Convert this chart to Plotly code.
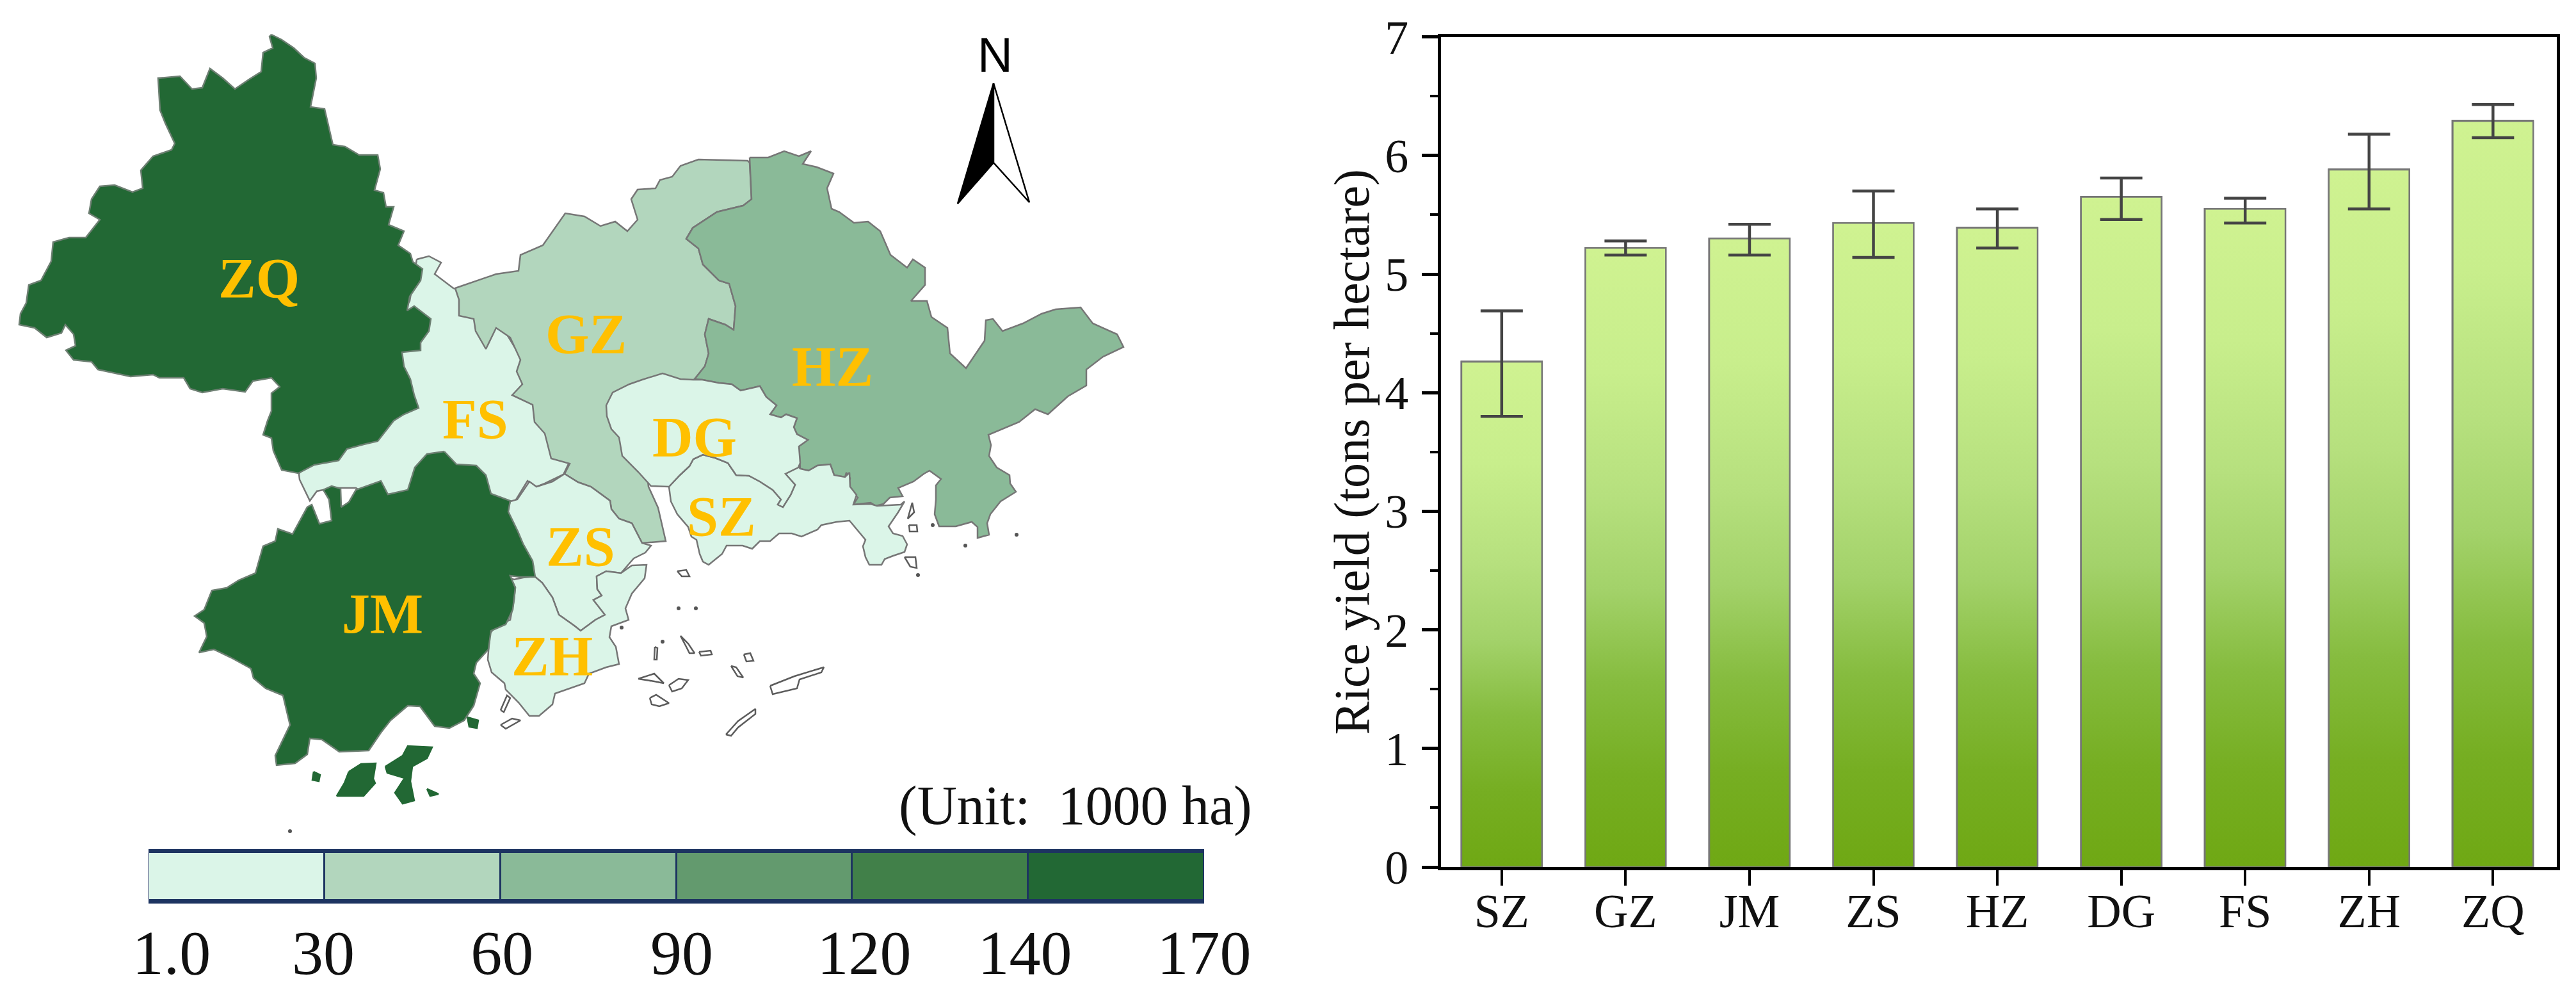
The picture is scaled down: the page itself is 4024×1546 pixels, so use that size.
import plotly.graph_objects as go

# ---- bar chart data ----
cities = ["SZ", "GZ", "JM", "ZS", "HZ", "DG", "FS", "ZH", "ZQ"]
rice_yield = [4.26, 5.22, 5.30, 5.43, 5.39, 5.65, 5.55, 5.88, 6.29]
err_plus = [0.43, 0.06, 0.12, 0.27, 0.16, 0.16, 0.09, 0.30, 0.14]
err_minus = [0.46, 0.06, 0.14, 0.29, 0.17, 0.19, 0.12, 0.33, 0.14]

# ---- legend classes ----
class_names = ["1.0-30", "30-60", "60-90", "90-120", "120-140", "140-170"]
class_colors = ["#dbf5e8", "#b2d6bd", "#8aba98", "#639a6e", "#418049", "#226834"]
class_ticks = ["1.0", "30", "60", "90", "120", "140", "170"]

# ---- map outlines ----
FS = [(651,405),(670,400),(689,410),(679,428),(708,450),(760,470),(900,700),(880,741),(851,755),(836,761),(824,751),
      (805,782),(760,790),(600,790),(556,762),(520,762),(495,767),(484,782),(468,749),(467,740),(640,470)]
GZ = [(711,450),(746,438),(775,428),(810,423),(813,398),(848,383),(883,333),(913,338),(938,353),(961,346),
      (980,361),(996,343),(986,311),(996,296),(1024,294),(1031,281),(1050,276),(1063,259),(1091,249),(1168,251),
      (1171,254),(1174,311),(1161,321),(1120,331),(1082,356),(1072,373),(1091,388),(1098,413),(1123,438),(1139,443),
      (1149,478),(1146,515),(1133,507),(1107,498),(1101,522),(1107,552),(1101,572),(1085,592),(1000,650),
      (1013,760),(1028,793),(1040,845),(1003,848),(987,817),(967,810),(955,795),(953,782),(923,760),(903,753),(882,740),
      (890,724),(861,716),(851,677),(835,659),(832,632),(800,617),(816,600),(807,580),(813,562),(797,527),
      (775,512),(759,545),(743,517),(740,498),(717,493),(717,468)]
HZ = [(1171,246),(1200,246),(1225,236),(1248,244),(1267,236),(1254,256),(1276,261),(1302,271),(1292,294),(1299,326),
      (1311,331),(1334,348),(1356,346),(1375,361),(1391,398),(1417,418),(1426,405),(1445,418),(1445,445),(1423,470),
      (1448,470),(1455,495),(1480,512),(1484,552),(1509,575),(1538,532),(1540,500),(1551,498),(1566,517),(1598,505),
      (1627,490),(1649,483),(1688,480),(1707,505),(1745,522),(1755,542),(1723,557),(1697,577),(1697,602),(1668,619),
      (1637,647),(1617,639),(1592,659),(1544,679),(1548,695),(1545,712),(1557,730),(1577,742),(1578,755),(1587,768),
      (1563,783),(1547,803),(1542,817),(1545,835),(1527,840),(1527,823),(1518,815),(1493,822),(1467,822),(1460,803),
      (1462,780),(1462,758),(1470,748),(1452,735),(1443,740),(1427,752),(1403,762),(1410,775),(1390,777),(1380,787),
      (1368,790),(1360,785),(1333,788),(1340,777),(1323,763),(1328,747),(1322,738),(1320,745),(1303,742),(1297,725),
      (1277,727),(1263,735),(1250,732),(1248,697),(1262,687),(1245,678),(1240,667),(1245,653),(1228,647),(1220,652),
      (1203,647),(1213,633),(1197,620),(1187,603),(1157,610),(1143,600),(1123,598),(1097,593),(1085,592),(1101,572),
      (1107,552),(1101,522),(1107,498),(1133,507),(1146,515),(1149,478),(1139,443),(1123,438),(1098,413),(1091,388),
      (1072,373),(1082,356),(1120,331),(1161,321),(1174,311)]
SZ = [(1045,760),(1062,742),(1077,728),(1083,717),(1098,710),(1117,715),(1137,723),(1150,742),(1170,743),(1187,752),
      (1207,765),(1220,780),(1215,788),(1223,792),(1235,773),(1242,757),(1227,740),(1247,728),(1250,732),(1263,735),
      (1277,727),(1297,725),(1303,742),(1320,745),(1327,738),(1328,760),(1338,773),(1333,788),(1360,787),(1370,790),
      (1407,788),(1413,783),(1403,800),(1388,822),(1395,833),(1410,837),(1417,850),(1413,862),(1395,868),(1382,873),
      (1377,882),(1358,882),(1352,870),(1348,853),(1352,843),(1335,823),(1327,813),(1307,815),(1283,820),(1277,827),
      (1252,838),(1237,833),(1217,833),(1203,845),(1187,845),(1175,857),(1160,852),(1135,852),(1128,865),(1107,882),
      (1098,877),(1093,865),(1088,843),(1080,838),(1075,823),(1058,803),(1048,783)]
DG = [(947,633),(957,613),(983,600),(1003,593),(1035,583),(1063,592),(1083,593),(1097,593),(1123,598),(1143,600),
      (1157,610),(1187,603),(1197,620),(1213,633),(1203,647),(1220,652),(1228,647),(1245,653),(1240,667),(1245,678),
      (1262,687),(1248,697),(1250,723),(1247,730),(1227,740),(1242,757),(1235,773),(1223,792),(1215,788),(1220,780),
      (1207,765),(1187,752),(1170,743),(1150,742),(1137,723),(1117,715),(1098,710),(1083,717),(1077,728),(1062,742),
      (1045,760),(1017,759),(997,737),(972,712),(967,683),(955,670),(948,650)]
ZS = [(882,740),(903,753),(923,760),(953,782),(955,795),(967,810),(987,817),(1003,848),(1017,852),(1008,863),
      (990,872),(970,895),(947,892),(932,900),(933,920),(940,930),(927,937),(945,960),(930,968),(907,985),
      (897,977),(873,960),(863,933),(847,910),(835,900),(833,883),(817,850),(800,820),(793,797),(797,783),
      (808,780),(827,752),(838,760),(863,752)]
ZH = [(835,900),(847,910),(863,933),(873,960),(897,977),(907,985),(930,968),(945,960),(927,937),(940,930),
      (933,920),(932,900),(947,892),(970,895),(987,883),(1010,882),(1007,903),(987,927),(977,950),(982,968),
      (955,978),(952,995),(962,1010),(967,1037),(947,1042),(920,1052),(913,1067),(867,1083),(863,1100),(842,1118),
      (827,1118),(810,1097),(790,1077),(788,1067),(768,1050),(762,1030),(765,990),(775,977),(797,968),(803,937),
      (805,917),(797,902),(803,905),(817,902)]
ZQ = [(424,54),(440,62),(459,75),(475,90),(492,99),(494,122),(491,137),(485,167),(507,170),(512,192),
      (520,226),(539,229),(561,242),(590,242),(594,264),(585,297),(599,301),(603,323),(615,323),(607,351),
      (631,361),(622,383),(641,396),(645,409),(660,420),(657,438),(640,463),(636,485),(647,478),(673,498),
      (670,517),(657,535),(657,547),(628,550),(631,572),(641,592),(647,617),(654,637),(631,647),(615,657),
      (599,677),(590,689),(568,694),(542,701),(529,719),(491,726),(466,739),(440,734),(427,704),(424,684),
      (411,679),(418,657),(424,642),(424,614),(437,604),(424,590),(395,595),(383,612),(348,607),(316,613),
      (297,607),(287,590),(249,590),(239,585),(204,588),(153,577),(143,565),(115,562),(103,547),(118,540),
      (115,522),(102,507),(96,520),(73,527),(54,512),(30,507),(32,490),(41,473),(45,445),(64,438),
      (80,408),(83,378),(108,371),(134,371),(156,343),(139,333),(143,311),(156,291),(179,289),(207,300),
      (223,294),(220,266),(239,244),(268,234),(273,224),(258,192),(250,172),(247,122),(281,119),(300,139),
      (316,137),(328,107),(348,122),(367,139),(389,124),(408,112),(411,82),(426,75),(421,57)]
JM = [(694,705),(713,725),(744,727),(759,742),(767,771),(797,782),(794,799),(809,830),(817,849),(832,876),
      (836,901),(813,901),(797,899),(805,918),(801,952),(790,975),(767,985),(763,1014),(744,1035),(740,1052),
      (750,1067),(740,1102),(725,1125),(702,1137),(679,1134),(656,1103),(637,1102),(610,1125),(595,1144),(576,1172),
      (530,1174),(503,1155),(484,1153),(480,1178),(461,1192),(432,1195),(430,1180),(453,1132),(442,1086),(415,1075),
      (396,1059),(392,1044),(361,1027),(334,1014),(311,1019),(323,994),(319,973),(304,962),(319,952),(331,922),
      (354,918),(373,906),(399,895),(411,853),(430,845),(434,826),(457,834),(480,792),(487,788),(499,818),
      (518,813),(514,780),(505,765),(518,759),(532,763),(533,792),(545,784),(556,765),(595,751),(606,772),
      (637,765),(648,730),(667,709)]
JM_ISLANDS = [
    [(602,1197),(629,1180),(637,1165),(675,1167),(667,1184),(644,1197),(641,1220),(647,1250),(629,1255),(617,1238),(632,1215),(605,1207)],
    [(545,1205),(564,1193),(587,1192),(583,1216),(586,1223),(568,1243),(526,1243),(538,1223)],
    [(490,1205),(500,1210),(498,1220),(488,1218)],
    [(667,1232),(685,1240),(672,1243)],
    [(730,1120),(747,1125),(745,1137),(733,1135)],
]
SMALL_ISLANDS = [
    [(1058,892),(1072,890),(1077,900),(1065,900)],
    [(1063,993),(1075,1005),(1085,1020),(1077,1020),(1072,1010)],
    [(1092,1018),(1110,1016),(1112,1022),(1095,1024)],
    [(1023,1010),(1027,1012),(1026,1030),(1022,1030)],
    [(1162,1022),(1172,1020),(1177,1032),(1166,1033)],
    [(997,1060),(1012,1055),(1022,1052),(1037,1067),(1022,1064)],
    [(1015,1090),(1025,1085),(1045,1098),(1030,1103),(1018,1100)],
    [(1045,1070),(1060,1060),(1075,1062),(1065,1075),(1050,1080)],
    [(1203,1071),(1241,1056),(1287,1042),(1283,1050),(1249,1061),(1245,1075),(1207,1084)],
    [(1134,1147),(1153,1126),(1180,1107),(1180,1115),(1153,1136),(1142,1149)],
    [(782,1109),(792,1086),(797,1090),(787,1112)],
    [(782,1132),(800,1122),(813,1125),(790,1138)],
    [(1142,1040),(1150,1042),(1161,1058),(1152,1056)],
    [(1420,820),(1432,820),(1433,830),(1421,830)],
    [(1413,870),(1430,870),(1432,887),(1422,885)],
    [(1418,810),(1425,785),(1428,800)],
]
ISLAND_DOTS = [(1060,950),(1087,950),(1035,1002),(1457,820),(1508,852),(1434,898),(1588,835),(453,1298),(971,980)]

north_left = [(1552,130),(1496,318),(1552,254)]
north_right = [(1552,130),(1608,316),(1552,254)]

# city name, x, y
MAP_LABELS = [("ZQ",404,434),("GZ",915,521),("FS",742,654),("HZ",1300,572),("DG",1085,682),
              ("SZ",1127,806),("ZS",907,853),("ZH",862,1024),("JM",597,958)]

SERIF = "Liberation Serif"
W, H = 4024, 1546
OUTLINE = "#767676"
BAR_W = 0.65
# colour down each bar, bottom to top
bar_scale = [[0, "#6fa814"], [0.15, "#76ae22"], [0.3, "#86bc3f"], [0.45, "#a3d26a"],
             [0.6, "#b6e07e"], [0.8, "#c8ee8c"], [1, "#cff291"]]


def add_region(fig, pts, color, line=OUTLINE):
    xs = [p[0] for p in pts] + [pts[0][0]]
    ys = [p[1] for p in pts] + [pts[0][1]]
    fig.add_trace(go.Scatter(x=xs, y=ys, mode="lines", fill="toself", fillcolor=color,
                             line=dict(color=line, width=2.5), xaxis="x2", yaxis="y2",
                             hoverinfo="skip", showlegend=False))


fig = go.Figure()

# map first, on a full page axis
add_region(fig, FS, class_colors[0])
add_region(fig, GZ, class_colors[1])
add_region(fig, HZ, class_colors[2])
add_region(fig, SZ, class_colors[0])
add_region(fig, DG, class_colors[0])
add_region(fig, ZS, class_colors[0])
add_region(fig, ZH, class_colors[0])
add_region(fig, ZQ, class_colors[5], "#6d7f72")
add_region(fig, JM, class_colors[5], "#6d7f72")
for isl in JM_ISLANDS:
    add_region(fig, isl, class_colors[5], class_colors[5])
for isl in SMALL_ISLANDS:
    add_region(fig, isl, "#ffffff", "#5c5c5c")
fig.add_trace(go.Scatter(x=[p[0] for p in ISLAND_DOTS], y=[p[1] for p in ISLAND_DOTS], mode="markers",
                         marker=dict(color="#555555", size=6), xaxis="x2", yaxis="y2",
                         hoverinfo="skip", showlegend=False))

# north arrow
add_region(fig, north_left, "#000000", "#000000")
add_region(fig, north_right, "#ffffff", "#000000")

# bars
fig.add_trace(go.Bar(x=list(range(len(cities))), y=rice_yield, width=BAR_W, marker=dict(color="#a3d26a", line=dict(color=OUTLINE, width=2.5)),
                     showlegend=False))
for i, v in enumerate(rice_yield):
    left, right = i - BAR_W / 2, i + BAR_W / 2
    fig.add_trace(go.Scatter(x=[left, left, right, right, left], y=[0, v, v, 0, 0], mode="lines", fill="toself",
                             fillgradient=dict(type="vertical", colorscale=bar_scale, start=0, stop=v),
                             line=dict(color=OUTLINE, width=2.5), hoverinfo="skip", showlegend=False))
fig.add_trace(go.Scatter(x=list(range(len(cities))), y=rice_yield, mode="markers", marker=dict(size=1, opacity=0),
                         error_y=dict(type="data", symmetric=False, array=err_plus, arrayminus=err_minus,
                                      color="#444444", thickness=4.5, width=33),
                         showlegend=False))

# class legend
fig.add_trace(go.Bar(x=list(range(6)), y=[1] * 6, width=1, xaxis="x3", yaxis="y3", text=class_names, textposition="none",
                     marker=dict(color=class_colors, line=dict(color="#1d3461", width=3)), showlegend=False))

fig.update_layout(
    width=W, height=H, margin=dict(l=0, r=0, t=0, b=0),
    paper_bgcolor="white", plot_bgcolor="rgba(0,0,0,0)",
    font=dict(family=SERIF, color="#111111"),
    xaxis=dict(domain=[2251 / W, 3994 / W], range=[-0.49, 8.515], tickvals=list(range(len(cities))), ticktext=cities,
               showline=True, mirror=True, linecolor="black", linewidth=5, ticks="outside", ticklen=24, tickwidth=4,
               tickcolor="black", tickfont=dict(size=74), showgrid=False, zeroline=False, ticklabelstandoff=-24,
               automargin=False),
    yaxis=dict(domain=[1 - 1354 / H, 1 - 57.6 / H], range=[0, 7], dtick=1,
               showline=True, mirror=True, linecolor="black", linewidth=5, ticks="outside", ticklen=25, tickwidth=5,
               tickcolor="black", tickfont=dict(size=74), showgrid=False, zeroline=False, ticklabelstandoff=6,
               minor=dict(dtick=0.5, ticks="outside", ticklen=12, tickwidth=4, tickcolor="black", showgrid=False),
               title=dict(text="Rice yield (tons per hectare)", font=dict(size=78), standoff=0), automargin=False),
    xaxis2=dict(domain=[0, 1], range=[0, W], visible=False, anchor="y2", automargin=False),
    yaxis2=dict(domain=[0, 1], range=[H, 0], visible=False, anchor="x2", automargin=False),
    xaxis3=dict(domain=[232 / W, 1881 / W], range=[-0.5, 5.5], anchor="y3", showline=True, mirror=True, linecolor="#1d3461",
                linewidth=5, tickvals=[-0.369, 0.493, 1.509, 2.531, 3.568, 4.481, 5.5], ticktext=class_ticks,
                tickfont=dict(size=98, color="#111111"), ticks="", showgrid=False, zeroline=False, ticklabelstandoff=-8,
                automargin=False),
    yaxis3=dict(domain=[1 - 1406 / H, 1 - 1331 / H], range=[0, 1], anchor="x3", visible=False, automargin=False),
    bargap=0,
)

for name, x, y in MAP_LABELS:
    fig.add_annotation(text=f"<b>{name}</b>", x=x, y=y, xref="x2", yref="y2", showarrow=False,
                       font=dict(family=SERIF, size=88, color="#ffc000"))
fig.add_annotation(text="N", x=1554, y=85, xref="x2", yref="y2", showarrow=False,
                   font=dict(family="Liberation Sans", size=76, color="black"))
fig.add_annotation(text="(Unit:\u00a0 1000 ha)", x=1680, y=1258, xref="x2", yref="y2", showarrow=False,
                   font=dict(family=SERIF, size=86, color="#111111"))

# the page's default body margin would push the figure off the window
fig.write_html("out.html", post_script="document.body.style.margin = '0';", config=dict(displayModeBar=False))
